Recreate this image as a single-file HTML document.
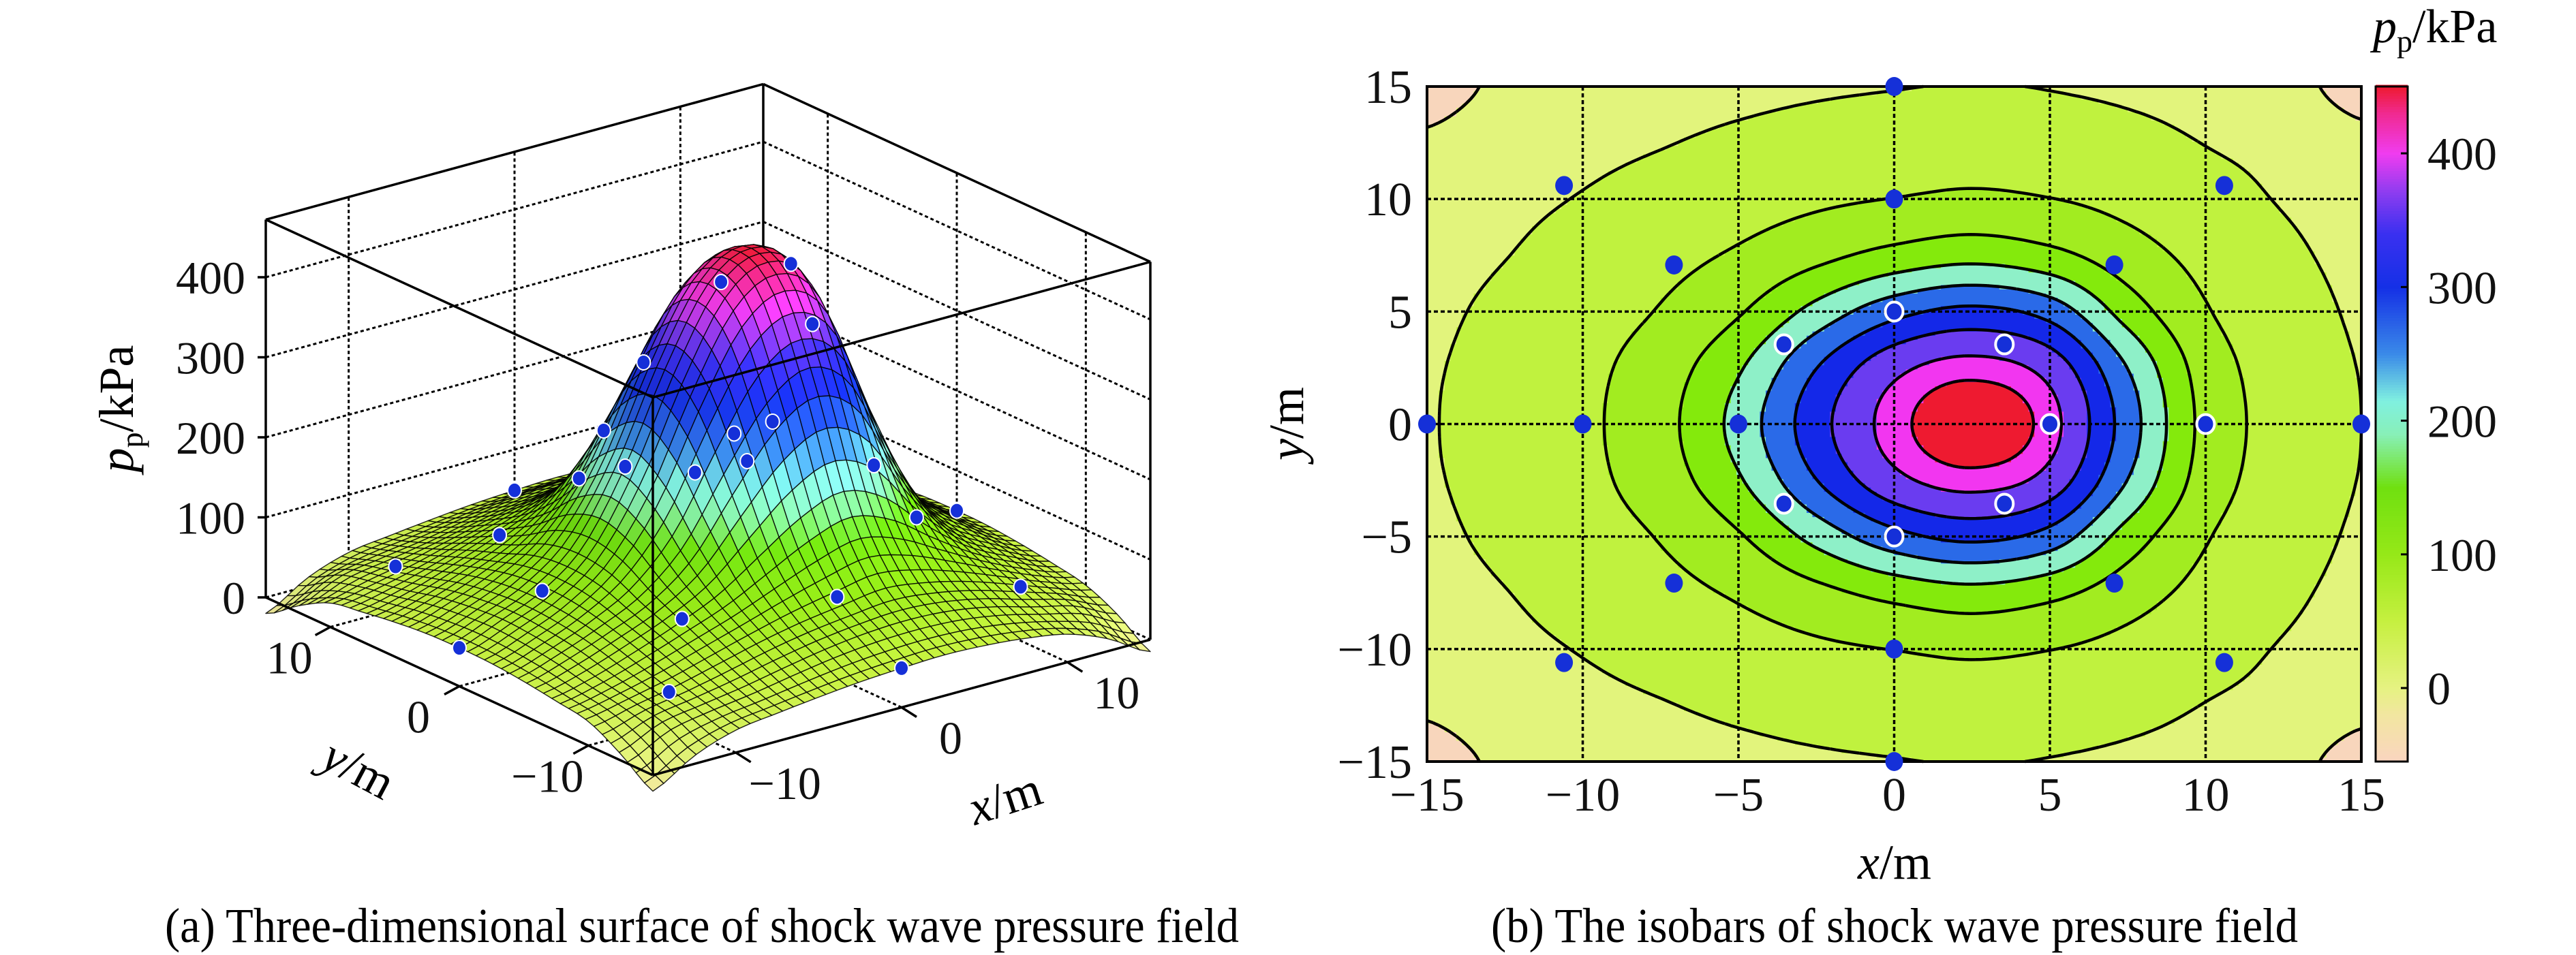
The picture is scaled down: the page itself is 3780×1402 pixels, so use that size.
<!DOCTYPE html>
<html><head><meta charset="utf-8"><style>
html,body{margin:0;padding:0;background:#fff}
svg{display:block;font-family:"Liberation Serif",serif}
</style></head><body>
<svg id="fig" width="3780" height="1402" viewBox="0 0 3780 1402" xmlns="http://www.w3.org/2000/svg">
<rect width="3780" height="1402" fill="#fff"/>
<g id="left"></g>
<g id="right"></g>
</svg>
<script>
// ---- data ----
const gridX = [-15,-12.5,-10,-7.5,-5,-2.5,0,2.5,5,7.5,10,12.5,15];
const gridY = [-15,-12.5,-10,-7.5,-5,-2.5,0,2.5,5,7.5,10,12.5,15];
// pressure (kPa), rows = gridY, cols = gridX
const pressureGrid = [
[-20,10,28,35,41,46,49,51,49,44,35,15,-15],
[8,31,40,48,58,67,73,75,72,63,49,36,12],
[30,41,52,66,80,92,101,109,101,86,67,47,31],
[37,49,66,85,106,136,166,183,164,122,85,59,39],
[43,59,79,103,145,217,283,312,280,178,104,70,45],
[47,65,88,125,194,299,386,417,381,249,127,78,49],
[48,68,91,133,218,330,418,448,415,275,135,81,50],
[47,65,88,125,194,299,386,417,381,249,127,78,49],
[43,59,79,103,145,217,283,312,280,178,104,70,45],
[37,49,66,85,106,136,166,183,164,122,85,59,39],
[30,41,52,66,80,92,101,109,101,86,67,47,31],
[8,31,40,48,58,67,73,75,72,63,49,36,12],
[-20,10,28,35,41,46,49,51,49,44,35,15,-15]];
const contourLevels = [0,50,100,150,200,250,300,350,400,430];
const bandColors = ["#f8d6bc","#e2f47c","#c0f23e","#a2ec20","#84ea0c","#8ef0c8","#2a6ae8","#1428e8","#6a3cf0","#f236f0","#ee1a30"];
const probeX = [0,0,0,0,0,0,-15,-10,-5,5,10,15,-10.6,10.6,-10.6,10.6,-7.07,7.07,-7.07,7.07,-3.54,3.54,-3.54,3.54];
const probeY = [15,10,5,-5,-10,-15,0,0,0,0,0,0,10.6,10.6,-10.6,-10.6,7.07,7.07,-7.07,-7.07,3.54,3.54,-3.54,-3.54];
const probeRing = [0,0,1,1,0,0,0,0,0,1,1,0,0,0,0,0,0,0,0,0,1,1,1,1];
const axisTicks = [-15,-10,-5,0,5,10,15];
const zTicks = [0,100,200,300,400];
const cbTicks = [0,100,200,300,400];
const cmapStops = [[-55,"#fad5c0"],[-20,"#f2e6a0"],[0,"#e6f282"],[50,"#c6f040"],[100,"#96e818"],[150,"#70e010"],[190,"#88f0b8"],[215,"#80f0e0"],[250,"#3a8ae8"],[300,"#1530e6"],[340,"#3a30f0"],[370,"#8a3cf0"],[400,"#f03cf0"],[430,"#f02a90"],[450,"#ee1a30"]];

const NS="http://www.w3.org/2000/svg";
function el(tag,attrs,parent){const e=document.createElementNS(NS,tag);for(const k in attrs)e.setAttribute(k,attrs[k]);parent.appendChild(e);return e;}
function cr(p0,p1,p2,p3,t){return p1+0.5*t*(p2-p0+t*(2*p0-5*p1+4*p2-p3+t*(3*(p1-p2)+p3-p0)));}
const nG=gridX.length, step=(gridX[nG-1]-gridX[0])/(nG-1);
function gv(r,c){r=Math.max(0,Math.min(nG-1,r));c=Math.max(0,Math.min(nG-1,c));return pressureGrid[r][c];}
function val(x,y){
  let gx=(x-gridX[0])/step, gy=(y-gridY[0])/step;
  let i=Math.min(nG-2,Math.max(0,Math.floor(gx))), j=Math.min(nG-2,Math.max(0,Math.floor(gy)));
  const tx=gx-i, ty=gy-j, rows=[];
  for(let r=j-1;r<=j+2;r++) rows.push(cr(gv(r,i-1),gv(r,i),gv(r,i+1),gv(r,i+2),tx));
  return cr(rows[0],rows[1],rows[2],rows[3],ty);
}
function hex(c){return [parseInt(c.substr(1,2),16),parseInt(c.substr(3,2),16),parseInt(c.substr(5,2),16)];}
function cmap(v,sh){
  sh=sh||1; let a=cmapStops[0],b=cmapStops[cmapStops.length-1];
  if(v<=a[0]) b=a; else if(v>=b[0]) a=b; else for(let k=0;k<cmapStops.length-1;k++){if(v>=cmapStops[k][0]&&v<=cmapStops[k+1][0]){a=cmapStops[k];b=cmapStops[k+1];break;}}
  const t=b[0]===a[0]?0:(v-a[0])/(b[0]-a[0]); const A=hex(a[1]),B=hex(b[1]);
  const c=A.map((q,i)=>Math.max(0,Math.min(255,Math.round((q+(B[i]-q)*t)*sh))));
  return "rgb("+c.join(",")+")";
}
function band(v){let k=0;while(k<contourLevels.length&&v>=contourLevels[k])k++;return k;}

// ================= RIGHT: contour =================
const R=document.getElementById('right');
const PX0=2094,PX1=3465,PY0=127,PY1=1118;
const sx=x=>PX0+(x+15)/30*(PX1-PX0), sy=y=>PY1-(y+15)/30*(PY1-PY0);
const fill=el('g',{},R);  
const N=160, d=30/N, vals=[];
for(let j=0;j<=N;j++){vals.push([]);for(let i=0;i<=N;i++)vals[j].push(val(-15+i*d,-15+j*d));}
for(let j=0;j<N;j++){
  let start=0, cur=band(val(-15+0.5*d,-15+(j+0.5)*d));
  for(let i=1;i<=N;i++){
    const b=i<N?band(val(-15+(i+0.5)*d,-15+(j+0.5)*d)):-1;
    if(b!==cur){
      el('rect',{x:sx(-15+start*d),y:sy(-15+(j+1)*d)-0.4,width:(i-start)*d/30*(PX1-PX0)+0.6,height:d/30*(PY1-PY0)+0.8,fill:bandColors[cur]},fill);
      start=i;cur=b;
    }
  }
}
const lines=el('g',{fill:'none',stroke:'#000','stroke-width':4.5,'stroke-linejoin':'round'},R);
 
contourLevels.forEach(L=>{
  let p="";
  for(let j=0;j<N;j++)for(let i=0;i<N;i++){
    const v=[vals[j][i],vals[j][i+1],vals[j+1][i+1],vals[j+1][i]];
    const c=[[i,j],[i+1,j],[i+1,j+1],[i,j+1]];
    const pts=[];
    for(let e=0;e<4;e++){const a=v[e],b=v[(e+1)%4];if((a<L)!==(b<L)){const t=(L-a)/(b-a);const A=c[e],B=c[(e+1)%4];pts.push([A[0]+(B[0]-A[0])*t,A[1]+(B[1]-A[1])*t]);}}
    for(let k=0;k+1<pts.length;k+=2){const q=pts[k],w=pts[k+1];
      p+="M"+sx(-15+q[0]*d).toFixed(1)+" "+sy(-15+q[1]*d).toFixed(1)+"L"+sx(-15+w[0]*d).toFixed(1)+" "+sy(-15+w[1]*d).toFixed(1);}
  }
  const pe=el('path',{d:p},lines);
  
  
});
const grid=el('g',{stroke:'#000','stroke-width':3.5,'stroke-dasharray':'6 4'},R);
 
[-10,-5,0,5,10].forEach(t=>{el('line',{x1:sx(t),x2:sx(t),y1:PY0,y2:PY1},grid);el('line',{x1:PX0,x2:PX1,y1:sy(t),y2:sy(t)},grid);});
const frame=el('rect',{x:PX0,y:PY0,width:PX1-PX0,height:PY1-PY0,fill:'none',stroke:'#000','stroke-width':4},R);
 
probeX.forEach((x,k)=>{
  const c=el('ellipse',{cx:sx(x),cy:sy(probeY[k]),rx:13,ry:14,fill:'#1530d8',stroke:probeRing[k]?'#fff':'none','stroke-width':4},R);
  
  
});
const tl=el('g',{'font-size':70,fill:'#111'},R);
axisTicks.forEach(t=>{
  const a=el('text',{x:sx(t),y:1190,'text-anchor':'middle'},tl);a.textContent=t<0?'\u2212'+(-t):t;
   
  const b=el('text',{x:2072,y:sy(t)+24,'text-anchor':'end'},tl);b.textContent=t<0?'\u2212'+(-t):t;
   
});
let t1=el('text',{x:2780,y:1290,'text-anchor':'middle','font-size':72},R);t1.innerHTML='<tspan font-style="italic">x</tspan>/m';
 
let t2=el('text',{x:0,y:0,'text-anchor':'middle','font-size':72,transform:'translate(1912,622) rotate(-90)'},R);t2.innerHTML='<tspan font-style="italic">y</tspan>/m';
 
const CB0=3486,CB1=3533,cbMin=-55,cbMax=450;
const cby=v=>PY1-(v-cbMin)/(cbMax-cbMin)*(PY1-PY0);
const cb=el('g',{},R);  
for(let v=cbMin;v<cbMax;v+=2){el('rect',{x:CB0,y:cby(v+2)-0.5,width:CB1-CB0,height:cby(v)-cby(v+2)+1,fill:cmap(v+1)},cb);}
el('rect',{x:CB0,y:PY0,width:CB1-CB0,height:PY1-PY0,fill:'none',stroke:'#000','stroke-width':3},cb);
cbTicks.forEach(t=>{
  el('line',{x1:CB1-10,x2:CB1,y1:cby(t),y2:cby(t),stroke:'#000','stroke-width':3},cb);
  const a=el('text',{x:3562,y:cby(t)+24,'font-size':68,fill:'#111'},cb);a.textContent=t;
   
});
let t3=el('text',{x:3482,y:62,'font-size':70},R);t3.innerHTML='<tspan font-style="italic">p</tspan><tspan font-size="46" dy="14">p</tspan><tspan dy="-14">/kPa</tspan>';
 
let t4=el('text',{x:2780,y:1383,'text-anchor':'middle','font-size':72,textLength:1184,lengthAdjust:'spacingAndGlyphs'},R);t4.textContent='(b) The isobars of shock wave pressure field';
 

// ================= LEFT: 3D surface =================
const Lg=document.getElementById('left');
const F=[958,1138], EX=[730,-199], EY=[-568,-261], ZS=1.175, ZTOP=472;
function P(x,y,z){const a=(x+15)/30,b=(y+15)/30;return [F[0]+a*EX[0]+b*EY[0],F[1]+a*EX[1]+b*EY[1]-z*ZS];}
function line(p,q,attrs,parent){return el('line',Object.assign({x1:p[0],y1:p[1],x2:q[0],y2:q[1]},attrs),parent);}
const back=el('g',{stroke:'#000','stroke-width':3,'stroke-dasharray':'5 4'},Lg);
 
[100,200,300,400].forEach(z=>{line(P(-15,15,z),P(15,15,z),{},back);line(P(15,15,z),P(15,-15,z),{},back);});
[-10,0,10].forEach(t=>{line(P(t,15,0),P(t,15,ZTOP),{},back);line(P(15,t,0),P(15,t,ZTOP),{},back);
  line(P(t,-15,0),P(t,15,0),{},back);line(P(-15,t,0),P(15,t,0),{},back);});
line(P(-15,15,0),P(15,15,0),{},back);line(P(15,15,0),P(15,-15,0),{},back);
const edges=el('g',{stroke:'#000','stroke-width':3.5},Lg);
 
line(P(15,15,0),P(15,15,ZTOP),{},edges);line(P(-15,15,0),P(-15,15,ZTOP),{},edges);line(P(15,-15,0),P(15,-15,ZTOP),{},edges);
line(P(-15,15,ZTOP),P(15,15,ZTOP),{},edges);line(P(15,15,ZTOP),P(15,-15,ZTOP),{},edges);
zTicks.forEach(z=>line(P(-15,15,z),[P(-15,15,z)[0]-12,P(-15,15,z)[1]],{},edges));
const surf=el('g',{stroke:'#000','stroke-width':1.4,'stroke-opacity':0.85,'stroke-linejoin':'round'},Lg);
 
const M=46, h=30/M, quads=[];
for(let j=0;j<M;j++)for(let i=0;i<M;i++){
  const x0=-15+i*h,y0=-15+j*h,x1=x0+h,y1=y0+h;
  const z00=val(x0,y0),z10=val(x1,y0),z11=val(x1,y1),z01=val(x0,y1);
  quads.push({d:x0+y0,pts:[P(x0,y0,z00),P(x1,y0,z10),P(x1,y1,z11),P(x0,y1,z01)],z:(z00+z10+z11+z01)/4,gx:(z10+z11-z00-z01)/2,gy:(z01+z11-z00-z10)/2});
}
quads.sort((a,b)=>b.d-a.d);
quads.forEach(q=>{
  const sh=Math.max(0.78,Math.min(1.12,1+0.006*(q.gy*0.6-q.gx*0.4)));
  el('polygon',{points:q.pts.map(p=>p[0].toFixed(1)+","+p[1].toFixed(1)).join(" "),fill:cmap(q.z,sh)},surf);
});
probeX.forEach((x,k)=>{
  const p=P(x,probeY[k],val(x,probeY[k]));
  const c=el('ellipse',{cx:p[0],cy:p[1],rx:10,ry:11,fill:'#1530d8',stroke:'#fff','stroke-width':2},Lg);
  
  
});
const front=el('g',{stroke:'#000','stroke-width':3.5},Lg);
 
line(P(-15,-15,0),P(-15,-15,ZTOP),{},front);line(P(-15,15,ZTOP),P(-15,-15,ZTOP),{},front);line(P(-15,-15,ZTOP),P(15,-15,ZTOP),{},front);
line(P(-15,15,0),P(-15,-15,0),{},front);line(P(-15,-15,0),P(15,-15,0),{},front);
[-10,0,10].forEach(t=>{const a=P(t,-15,0);line(a,[a[0]+22,a[1]+14],{},front);const b=P(-15,t,0);line(b,[b[0]-22,b[1]+12],{},front);});
const l3=el('g',{'font-size':68,fill:'#111'},Lg);
zTicks.forEach(z=>{const p=P(-15,15,z);const a=el('text',{x:p[0]-30,y:p[1]+24,'text-anchor':'end'},l3);a.textContent=z;
   });
[-10,0,10].forEach(t=>{const lab=t<0?'\u2212'+(-t):t;
  const p=P(t,-15,0);const a=el('text',{x:p[0]+72,y:p[1]+68,'text-anchor':'middle'},l3);a.textContent=lab;
   
  const q=P(-15,t,0);const b=el('text',{x:q[0]-60,y:q[1]+68,'text-anchor':'middle'},l3);b.textContent=lab;
   });
let a1=el('text',{x:0,y:0,'font-size':72,'text-anchor':'middle',transform:'translate(1482,1195) rotate(-18)'},Lg);a1.innerHTML='<tspan font-style="italic">x</tspan>/m';
 
let a2=el('text',{x:0,y:0,'font-size':72,'text-anchor':'middle',transform:'translate(515,1150) rotate(28)'},Lg);a2.innerHTML='<tspan font-style="italic">y</tspan>/m';
 
let a3=el('text',{x:0,y:0,'font-size':72,'text-anchor':'middle',transform:'translate(195,600) rotate(-90)'},Lg);a3.innerHTML='<tspan font-style="italic">p</tspan><tspan font-size="46" dy="14">p</tspan><tspan dy="-14">/kPa</tspan>';
 
let a4=el('text',{x:1030,y:1383,'text-anchor':'middle','font-size':72,textLength:1576,lengthAdjust:'spacingAndGlyphs'},Lg);a4.textContent='(a) Three-dimensional surface of shock wave pressure field';
 
</script>
</body></html>
